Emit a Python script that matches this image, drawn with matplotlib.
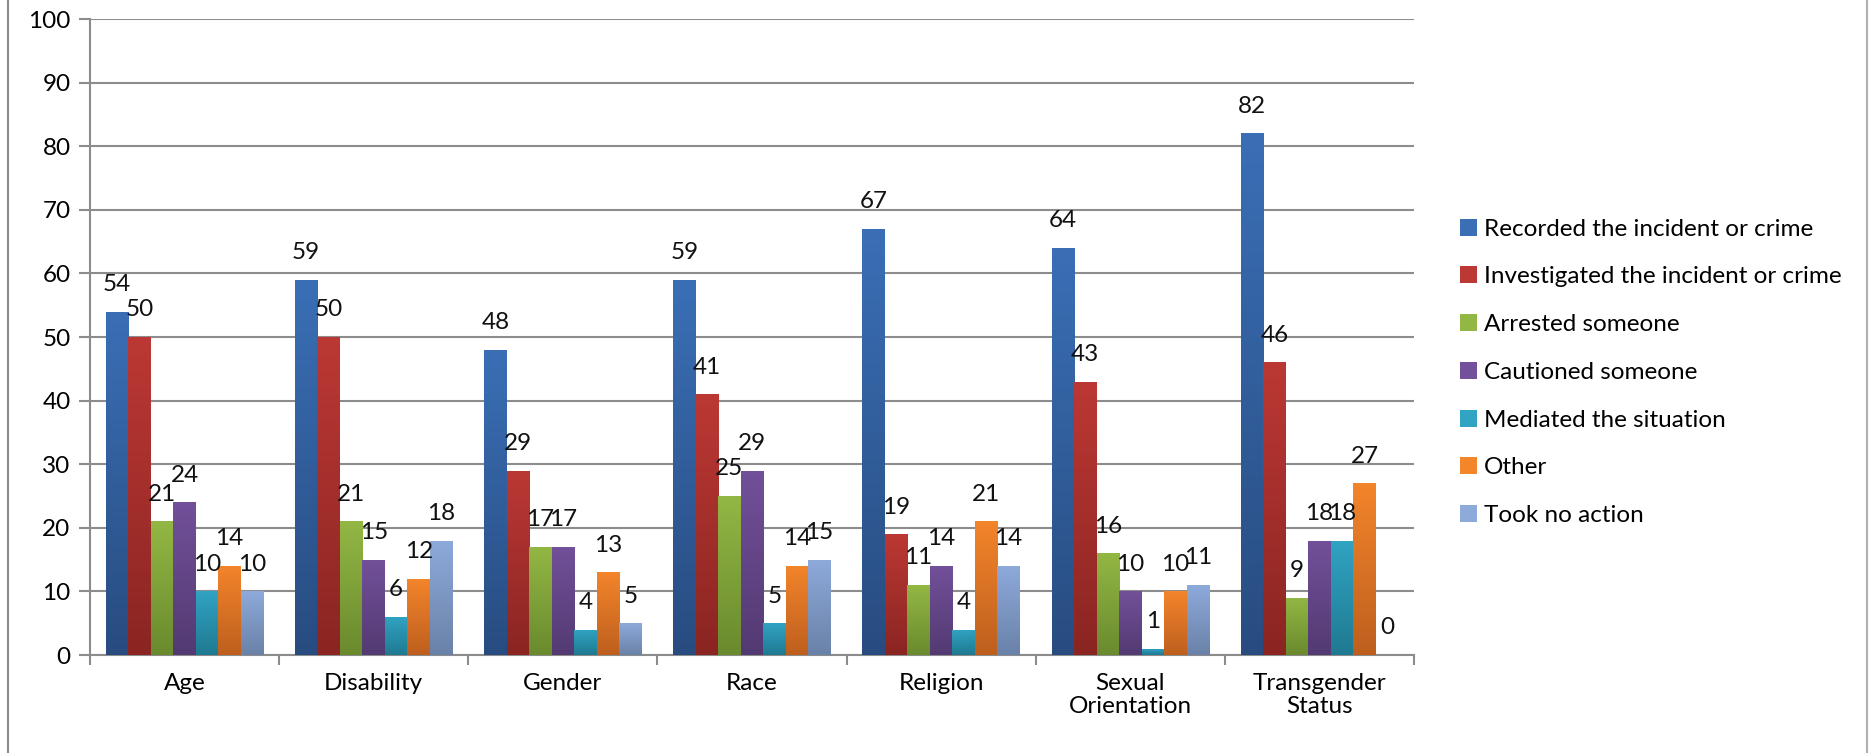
import numpy as np
import matplotlib
matplotlib.use("Agg")
import matplotlib.pyplot as plt
from matplotlib.lines import Line2D
from matplotlib.colors import LinearSegmentedColormap

plt.rcParams['font.family'] = ['Lato', 'DejaVu Sans']

categories = ["Age", "Disability", "Gender", "Race", "Religion",
              "Sexual\nOrientation", "Transgender\nStatus"]
series = ["Recorded the incident or crime", "Investigated the incident or crime",
          "Arrested someone", "Cautioned someone", "Mediated the situation",
          "Other", "Took no action"]

recorded = [54, 59, 48, 59, 67, 64, 82]
investigated = [50, 50, 29, 41, 19, 43, 46]
arrested = [21, 21, 17, 25, 11, 16, 9]
cautioned = [24, 15, 17, 29, 14, 10, 18]
mediated = [10, 6, 4, 5, 4, 1, 18]
other = [14, 12, 13, 14, 21, 10, 27]
no_action = [10, 18, 5, 15, 14, 11, 0]
values = [recorded, investigated, arrested, cautioned, mediated, other, no_action]

# (top colour, bottom colour) for the gradient fill
colors = [("#3A6FB6", "#284C80"), ("#BC3834", "#8A2522"), ("#93B744", "#6A8A2E"),
          ("#72509A", "#533A72"), ("#31A3C3", "#1F7A91"), ("#F3852B", "#BE5F1E"),
          ("#8EAADB", "#6A82A8")]

FS = 17.5
W, H = 1869, 753
fig = plt.figure(figsize=(W / 100, H / 100), dpi=100)
ax = fig.add_axes([90 / W, 1 - 655 / H, (1414 - 90) / W, (655 - 19) / H])

n = len(series)
bw = 0.119
x = np.arange(len(categories))
handles = []
for i, (name, vals, (ctop, cbot)) in enumerate(zip(series, values, colors)):
    pos = x + (i - (n - 1) / 2) * bw
    bars = ax.bar(pos, vals, bw, color=ctop, label=name, zorder=3)
    cmap = LinearSegmentedColormap.from_list("g%d" % i, [cbot, ctop])
    grad = np.linspace(0, 1, 256).reshape(-1, 1)
    for b, v in zip(bars, vals):
        if v > 0:
            bx = b.get_x()
            im = ax.imshow(grad, cmap=cmap, aspect='auto', origin='lower',
                           extent=(bx, bx + bw, 0, v), zorder=3.5)
            im.set_clip_path(b)
        ax.annotate(str(v), (b.get_x() + bw / 2, v), xytext=(0, 19.5),
                    textcoords='offset points', ha='center', va='center',
                    fontsize=FS, color='#111111', zorder=5)
    handles.append(plt.Rectangle((0, 0), 1, 1, facecolor=ctop, edgecolor='none'))

ax.set_xlim(-0.5, len(categories) - 0.5)
ax.set_ylim(0, 100)
ax.set_yticks(np.arange(0, 101, 10))
ax.set_xticks(np.arange(-0.5, len(categories), 1))
ax.set_xticklabels([])
ax.set_xticks(x, minor=True)
ax.set_xticklabels(categories, minor=True, fontsize=FS, linespacing=1.1)
ax.tick_params(axis='x', which='minor', length=0, pad=13)
ax.tick_params(axis='x', which='major', length=7, color='#8c8c8c', width=1.5)
ax.tick_params(axis='y', length=8, color='#8c8c8c', width=1.5, labelsize=FS, pad=6)
ax.yaxis.grid(True, color='#8c8c8c', linewidth=1.5, zorder=0)
ax.set_axisbelow(True)
for s in ['top', 'right']:
    ax.spines[s].set_visible(False)
for s in ['left', 'bottom']:
    ax.spines[s].set_color('#8c8c8c')
    ax.spines[s].set_linewidth(1.5)

leg = fig.legend(handles, series, loc='upper left', bbox_to_anchor=(1450 / W, 1 - 209 / H),
                 frameon=False, fontsize=FS, handlelength=0.7, handleheight=0.7,
                 handletextpad=0.3, labelspacing=1.1, borderaxespad=0)

fig.add_artist(Line2D([8 / W, 8 / W], [0, 1], color='#8c8c8c', linewidth=1.5))
fig.add_artist(Line2D([1867 / W, 1867 / W], [0, 1], color='#b0b0b0', linewidth=1.5))

fig.savefig("out.png", dpi=100)
